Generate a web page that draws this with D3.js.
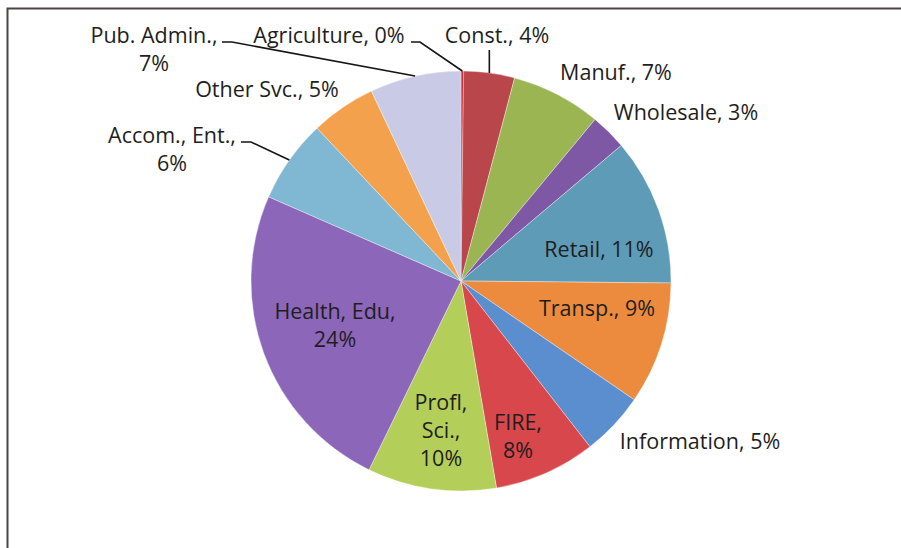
<!DOCTYPE html>
<html>
<head>
<meta charset="utf-8">
<script src="https://cdn.jsdelivr.net/npm/d3@7"></script>
<style>
  html, body { margin: 0; padding: 0; background: #fff; }
  svg { display: block; }
  .lbl { font-family: "Open Sans", Lato, sans-serif; font-size: 21.5px; fill: #1e1e1e; }
</style>
</head>
<body>
<svg id="chart" width="901" height="548"></svg>
<script>
// Employment share by industry, percent
const categories = [
  "Agriculture", "Const.", "Manuf.", "Wholesale", "Retail", "Transp.",
  "Information", "FIRE", "Profl, Sci.", "Health, Edu", "Accom., Ent.",
  "Other Svc.", "Pub. Admin."
];
const shares = [0.2, 3.9, 6.9, 2.8, 11.3, 9.4, 4.9, 7.8, 9.9, 24.3, 6.4, 5.0, 7.0];
const sliceColors = [
  "#d9262c", "#b9464b", "#9bb553", "#7e58a5", "#5d9bb7", "#ec8b3d",
  "#5b8ecf", "#d8474b", "#b4cf59", "#8c66b8", "#80b8d3", "#f4a14d", "#c9cae6"
];

// Label placement: first-line centre, line-break style, and leader line kind
const labelLayout = {
  "Agriculture":  { x: 329, y: 43,  wrap: "none", leader: [411, 420] },
  "Const.":       { x: 497, y: 43,  wrap: "none", vleader: true },
  "Manuf.":       { x: 616, y: 80,  wrap: "none" },
  "Wholesale":    { x: 686, y: 120, wrap: "none" },
  "Retail":       { x: 599, y: 257, wrap: "none" },
  "Transp.":      { x: 597, y: 316, wrap: "none" },
  "Information":  { x: 700, y: 449, wrap: "none" },
  "FIRE":         { x: 518, y: 430, wrap: "pct" },
  "Profl, Sci.":  { x: 441, y: 410, wrap: "all" },
  "Health, Edu":  { x: 335, y: 319, wrap: "pct" },
  "Accom., Ent.": { x: 172, y: 143, wrap: "pct", leader: [241, 251] },
  "Other Svc.":   { x: 267, y: 97,  wrap: "none" },
  "Pub. Admin.":  { x: 154, y: 43,  wrap: "pct", leader: [222, 232] }
};
const lineHeight = 28;

const svg = d3.select("#chart");
const cx = 461, cy = 281, radius = 210;

// Frame around the chart area
svg.append("rect")
  .attr("x", 7.5).attr("y", 8.5)
  .attr("width", 920).attr("height", 560)
  .attr("fill", "none")
  .attr("stroke", "#4a4444")
  .attr("stroke-width", 2);

const data = categories.map((c, i) => ({ name: c, value: shares[i], color: sliceColors[i] }));

const pie = d3.pie().sort(null).value(d => d.value);
const arcs = pie(data);
const arc = d3.arc().innerRadius(0).outerRadius(radius);

const g = svg.append("g").attr("transform", `translate(${cx},${cy})`);

g.selectAll("path.slice")
  .data(arcs)
  .join("path")
  .attr("class", "slice")
  .attr("d", arc)
  .attr("fill", d => d.data.color)
  .attr("stroke", "rgba(255,255,255,0.45)")
  .attr("stroke-width", 0.8);

// Point on the rim at the middle of a slice, in page coordinates
function rimPoint(d) {
  const a = (d.startAngle + d.endAngle) / 2;
  return [cx + radius * Math.sin(a), cy - radius * Math.cos(a)];
}

function labelLines(d) {
  const text = `${d.data.name}, ${Math.round(d.data.value)}%`;
  const mode = labelLayout[d.data.name].wrap;
  if (mode === "none") return [text];
  if (mode === "pct") return [`${d.data.name},`, `${Math.round(d.data.value)}%`];
  const parts = text.split(", ");
  return parts.map((p, i) => i < parts.length - 1 ? p + "," : p);
}

// Leader lines
const leaders = svg.append("g")
  .attr("fill", "none")
  .attr("stroke", "#151515")
  .attr("stroke-width", 1.6);

arcs.forEach(d => {
  const L = labelLayout[d.data.name];
  const [px, py] = rimPoint(d);
  if (L.leader) {
    const ly = L.y - 1;
    leaders.append("polyline")
      .attr("points", `${L.leader[0]},${ly} ${L.leader[1]},${ly} ${px},${py}`);
  } else if (L.vleader) {
    leaders.append("line")
      .attr("x1", px).attr("y1", L.y + 7)
      .attr("x2", px).attr("y2", py);
  }
});

// Text labels
const labels = svg.append("g");
arcs.forEach(d => {
  const L = labelLayout[d.data.name];
  const t = labels.append("text")
    .attr("class", "lbl")
    .attr("text-anchor", "middle")
    .attr("x", L.x).attr("y", L.y);
  labelLines(d).forEach((line, i) => {
    t.append("tspan")
      .attr("x", L.x)
      .attr("dy", i === 0 ? 0 : lineHeight)
      .text(line);
  });
});
</script>
</body>
</html>
